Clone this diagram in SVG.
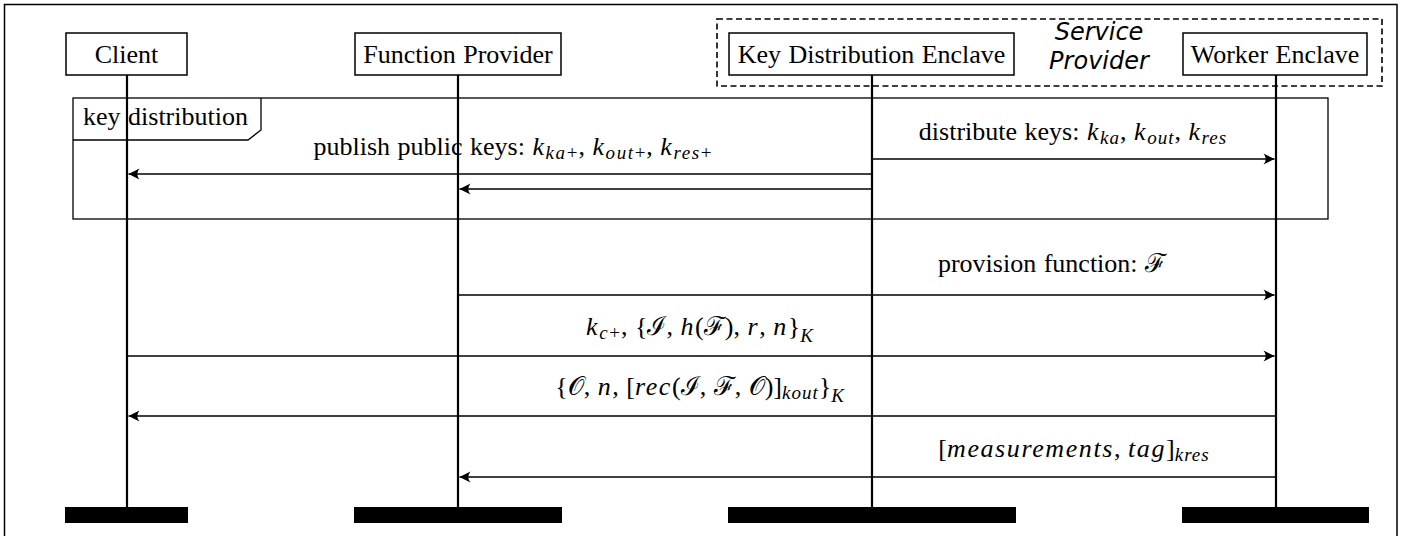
<svg xmlns="http://www.w3.org/2000/svg" width="1406" height="536" viewBox="0 0 1406 536">
<defs>
<style>
.bg{fill:#fff}
.border{fill:none;stroke:#000;stroke-width:1.5}
.box{fill:#fff;stroke:#000;stroke-width:1.5}
.dash{fill:none;stroke:#000;stroke-width:1.6;stroke-dasharray:6 3.5}
.frame{fill:none;stroke:#000;stroke-width:1.3}
.t{font-family:"Liberation Serif","Times New Roman",serif;font-size:26px;fill:#000;word-spacing:1px}
.i{font-style:italic;letter-spacing:1.6px}
.s{font-size:19px;letter-spacing:1px}
.cal{font-family:"DejaVu Serif","Liberation Serif",serif;font-style:normal;font-weight:normal}
.sp{font-family:"DejaVu Sans","Liberation Sans",sans-serif;font-style:italic;font-size:24px;fill:#000}
.life{stroke:#000;stroke-width:2.2}
.bar{fill:#000}
.msg{fill:none;stroke:#000;stroke-width:1.6;marker-end:url(#ah)}
</style>
<marker id="ah" markerUnits="userSpaceOnUse" markerWidth="14" markerHeight="14" viewBox="-12 -7 14 14" refX="0" refY="0" orient="auto">
<path d="M0,0 L-11,-5.5 Q-6.5,0 -11,5.5 Z" fill="#000"/>
</marker>
</defs>
<rect class="bg" x="0" y="0" width="1406" height="536"/>
<path class="border" d="M4.5,545 V4.5 H1397 V545"/>

<g id="service-provider">
<rect class="dash" x="717" y="19" width="665" height="67"/>
<text class="sp" x="1099" y="40" text-anchor="middle">Service</text>
<text class="sp" x="1099" y="69" text-anchor="middle">Provider</text>
</g>

<g id="key-distribution-frame">
<rect class="frame" x="73" y="98" width="1255" height="121"/>
<path class="frame" d="M73,140 H248 L261,130 V98"/>
<text class="t" x="83" y="125">key distribution</text>
</g>

<g id="client">
<rect class="box" x="66" y="33" width="121" height="42"/>
<text class="t" x="126.5" y="63" text-anchor="middle">Client</text>
<line class="life" x1="127" y1="75" x2="127" y2="507"/>
<rect class="bar" x="65" y="507" width="123" height="16"/>
</g>

<g id="function-provider">
<rect class="box" x="355" y="33" width="206" height="42"/>
<text class="t" x="458" y="63" text-anchor="middle">Function Provider</text>
<line class="life" x1="458" y1="75" x2="458" y2="507"/>
<rect class="bar" x="354" y="507" width="208" height="16"/>
</g>

<g id="key-distribution-enclave">
<rect class="box" x="729" y="33" width="285" height="42"/>
<text class="t" x="871.5" y="63" text-anchor="middle">Key Distribution Enclave</text>
<line class="life" x1="872" y1="75" x2="872" y2="507"/>
<rect class="bar" x="728" y="507" width="288" height="16"/>
</g>

<g id="worker-enclave">
<rect class="box" x="1183" y="33" width="184" height="42"/>
<text class="t" x="1275" y="63" text-anchor="middle">Worker Enclave</text>
<line class="life" x1="1276" y1="75" x2="1276" y2="507"/>
<rect class="bar" x="1182" y="507" width="187" height="16"/>
</g>

<g id="connectors">
<line class="msg" x1="871" y1="174" x2="128.5" y2="174"/>
<line class="msg" x1="871" y1="189" x2="459.5" y2="189"/>
<line class="msg" x1="873" y1="159" x2="1274.5" y2="159"/>
<line class="msg" x1="459" y1="295" x2="1274.5" y2="295"/>
<line class="msg" x1="128" y1="356" x2="1274.5" y2="356"/>
<line class="msg" x1="1275" y1="416" x2="128.5" y2="416"/>
<line class="msg" x1="1275" y1="477" x2="459.5" y2="477"/>

<text class="t" x="513" y="155" text-anchor="middle">publish public keys: <tspan class="i">k</tspan><tspan class="s" dy="4"><tspan class="i">ka</tspan>+</tspan><tspan dy="-4">, </tspan><tspan class="i">k</tspan><tspan class="s" dy="4"><tspan class="i">out</tspan>+</tspan><tspan dy="-4">, </tspan><tspan class="i">k</tspan><tspan class="s" dy="4"><tspan class="i">res</tspan>+</tspan></text>

<text class="t" x="1073" y="140" text-anchor="middle">distribute keys: <tspan class="i">k</tspan><tspan class="s i" dy="4">ka</tspan><tspan dy="-4">, </tspan><tspan class="i">k</tspan><tspan class="s i" dy="4">out</tspan><tspan dy="-4">, </tspan><tspan class="i">k</tspan><tspan class="s i" dy="4">res</tspan></text>

<text class="t" x="1052" y="272" text-anchor="middle">provision function: <tspan class="cal">ℱ</tspan></text>

<text class="t" x="700" y="335" text-anchor="middle"><tspan class="i">k</tspan><tspan class="s" dy="4"><tspan class="i">c</tspan>+</tspan><tspan dy="-4">, {</tspan><tspan class="cal">ℐ</tspan>, <tspan class="i">h</tspan>(<tspan class="cal">ℱ</tspan>), <tspan class="i">r</tspan>, <tspan class="i">n</tspan>}<tspan class="s i" dy="7">K</tspan></text>

<text class="t" x="700" y="395" text-anchor="middle">{<tspan class="cal">𝒪</tspan>, <tspan class="i">n</tspan>, [<tspan class="i">rec</tspan>(<tspan class="cal">ℐ</tspan>, <tspan class="cal">ℱ</tspan>, <tspan class="cal">𝒪</tspan>)]<tspan class="s i" dy="4">kout</tspan><tspan dy="-4">}</tspan><tspan class="s i" dy="7">K</tspan></text>

<text class="t" x="1074" y="457" text-anchor="middle">[<tspan class="i">measurements</tspan>, <tspan class="i">tag</tspan>]<tspan class="s i" dy="4">kres</tspan></text>
</g>
</svg>
